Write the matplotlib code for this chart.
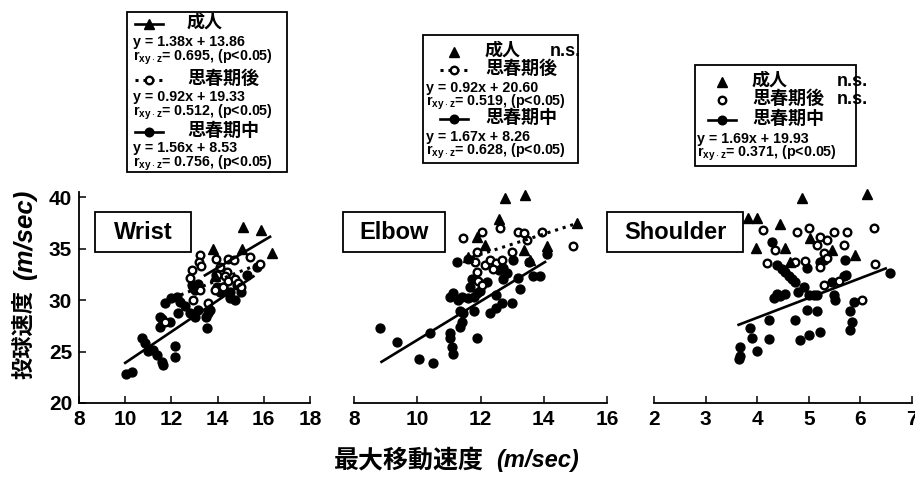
import matplotlib
matplotlib.use('Agg')
import matplotlib.pyplot as plt
from matplotlib.lines import Line2D
from matplotlib.patches import Rectangle

plt.rcParams['font.family'] = ['Liberation Sans', 'Noto Sans CJK JP']
plt.rcParams['font.weight'] = 'bold'
plt.rcParams['mathtext.fontset'] = 'custom'
plt.rcParams['mathtext.rm'] = 'Liberation Sans:bold'
plt.rcParams['mathtext.bf'] = 'Liberation Sans:bold'
plt.rcParams['mathtext.it'] = 'Liberation Sans:italic:bold'

# ---------------- data ----------------
panel_names = ['Wrist', 'Elbow', 'Shoulder']
x_ranges = [(8, 18), (8, 16), (2, 7)]
x_ticks = [[8, 10, 12, 14, 16, 18], [8, 10, 12, 14, 16], [2, 3, 4, 5, 6, 7]]
y_ticks = [20, 25, 30, 35, 40]

# Wrist
wrist_mid_x = [10.03, 10.28, 10.71, 10.86, 11.22, 11.36, 11.58, 11.65, 12.16, 12.16, 11.5, 11.58,
               11.5, 11.72, 12.0, 12.23, 12.37, 12.59, 12.8, 13.0, 13.17, 13.53, 13.5, 13.67, 12.88,
               13.0, 13.17, 13.96, 14.1, 14.54, 14.54, 14.83, 15.26, 15.69, 11.94, 12.95, 13.6,
               13.93, 14.25, 14.5, 14.75, 15.0, 12.3, 11.0]
wrist_mid_y = [22.8, 23.0, 26.3, 25.8, 25.15, 24.7, 24.0, 23.7, 24.5, 25.5, 27.4, 28.2,
               28.4, 29.7, 30.2, 30.3, 29.8, 29.4, 28.7, 28.4, 29.0, 27.25, 28.4, 29.0, 31.5,
               31.0, 31.6, 31.3, 30.8, 30.8, 30.2, 31.46, 32.4, 33.2, 27.9, 31.3, 28.7,
               32.4, 31.3, 30.65, 30.0, 30.8, 28.7, 25.1]
wrist_post_x = [13.24, 13.21, 13.27, 13.93, 14.46, 14.71, 15.4, 15.84, 14.1, 13.96, 14.39, 14.32,
                12.8, 12.95, 13.6, 13.89, 14.25, 14.46, 14.75, 14.9, 15.0, 11.72, 12.88, 13.24]
wrist_post_y = [34.4, 33.7, 33.3, 33.95, 33.95, 33.9, 34.2, 33.5, 33.2, 32.4, 32.75, 32.3,
                32.1, 30.0, 29.7, 31.0, 31.3, 31.9, 32.0, 31.7, 31.3, 27.9, 32.9, 31.0]
wrist_adult_x = [15.11, 15.9, 16.34, 13.8, 15.04, 13.9]
wrist_adult_y = [37.1, 36.8, 34.6, 35.0, 35.0, 32.3]

# Elbow
elbow_mid_x = [8.82, 9.35, 10.04, 10.49, 10.4, 11.04, 11.04, 11.09, 11.14, 11.35, 11.4, 11.46,
               11.35, 11.88, 11.78, 11.04, 11.14, 11.3, 11.4, 11.6, 11.78, 11.88, 11.67, 11.72,
               11.25, 12.3, 12.5, 12.67, 13.0, 12.5, 12.7, 12.83, 12.72, 13.04, 13.2, 13.25,
               13.67, 13.88, 13.52, 14.1, 11.99, 12.2, 12.6]
elbow_mid_y = [27.25, 25.96, 24.24, 23.85, 26.8, 26.8, 26.3, 25.47, 24.8, 27.4, 27.9, 28.7,
               28.9, 26.3, 28.9, 30.3, 30.65, 30.0, 30.3, 30.2, 30.3, 30.65, 31.3, 32.0,
               33.7, 28.7, 29.2, 29.7, 29.7, 30.5, 32.0, 32.6, 33.1, 33.9, 32.1, 31.1,
               32.3, 32.3, 33.7, 34.5, 30.9, 31.8, 32.9]
elbow_post_x = [11.46, 11.88, 12.04, 11.83, 11.88, 12.15, 12.3, 12.5, 12.67, 12.62, 11.93, 12.04,
                12.99, 13.2, 13.36, 13.46, 13.94, 14.94, 11.6, 12.4]
elbow_post_y = [36.0, 34.7, 36.6, 33.7, 32.75, 33.4, 33.9, 33.6, 33.9, 37.0, 31.9, 31.5,
                34.7, 36.6, 36.5, 35.8, 36.6, 35.3, 34.0, 33.0]
elbow_adult_x = [12.78, 13.41, 12.57, 11.88, 12.14, 13.36, 14.1, 15.05, 13.57, 11.62]
elbow_adult_y = [39.87, 40.2, 37.9, 36.15, 35.34, 34.86, 35.3, 37.45, 33.9, 34.2]

# Shoulder
shoulder_mid_x = [3.67, 3.64, 3.66, 3.99, 3.9, 4.22, 3.86, 4.22, 4.29, 4.38, 4.48, 4.54, 4.61,
                  4.67, 4.74, 4.32, 4.38, 4.45, 4.54, 4.8, 4.9, 4.74, 4.83, 5.0, 5.22, 4.96, 5.16,
                  5.0, 5.1, 5.16, 4.96, 5.22, 5.29, 5.45, 5.48, 5.5, 5.68, 5.72, 5.71, 5.8, 5.84,
                  5.8, 5.87, 6.58]
shoulder_mid_y = [25.4, 24.3, 24.6, 25.05, 26.28, 26.2, 27.3, 28.06, 35.66, 33.4, 33.0, 32.7, 32.3,
                  32.0, 31.8, 30.2, 30.6, 30.4, 30.6, 30.8, 31.3, 28.06, 26.1, 26.6, 26.9, 29.0, 28.9,
                  30.5, 30.5, 30.5, 33.1, 33.7, 33.9, 31.8, 30.5, 30.0, 32.3, 32.4, 33.9, 28.9, 27.9,
                  27.1, 29.8, 32.6]
shoulder_post_x = [4.12, 4.35, 4.19, 4.77, 5.0, 4.74, 4.93, 5.16, 5.22, 5.35, 5.48, 5.29, 5.35,
                   5.22, 5.74, 5.68, 6.26, 6.29, 5.29, 5.58, 6.03]
shoulder_post_y = [36.8, 34.85, 33.56, 36.6, 37.0, 33.72, 33.8, 35.34, 36.15, 35.8, 36.6, 34.53,
                   34.05, 33.2, 36.6, 35.34, 36.96, 33.46, 31.5, 31.9, 30.0]
shoulder_adult_x = [4.87, 6.13, 3.83, 3.99, 4.45, 3.98, 4.54, 4.64, 5.03, 5.45, 5.9]
shoulder_adult_y = [39.87, 40.26, 37.93, 37.93, 37.35, 35.08, 35.08, 33.72, 36.05, 34.85, 34.4]

# fitted lines as drawn in the figure (end points)
wrist_mid_line = ([10.0, 15.55], [23.9, 32.3])
wrist_adult_line = ([13.45, 16.27], [32.4, 36.15])
wrist_post_line = ([12.4, 15.8], [30.5, 33.5])
elbow_mid_line = ([8.87, 14.04], [24.0, 33.7])
elbow_post_line = ([11.25, 15.05], [33.7, 37.45])
shoulder_mid_line = ([3.64, 6.49], [27.6, 33.07])

group_names = ['成人', '思春期後', '思春期中']
wrist_stats = ['y = 1.38x + 13.86', '0.695', 'y = 0.92x + 19.33', '0.512', 'y = 1.56x + 8.53', '0.756']
elbow_stats = ['y = 0.92x + 20.60', '0.519', 'y = 1.67x + 8.26', '0.628']
shoulder_stats = ['y = 1.69x + 19.93', '0.371']
ns_label = 'n.s.'
p_label = '(p<0.05)'
x_label_jp = '最大移動速度'
y_label_jp = '投球速度'
unit_label = '(m/sec)'

# ---------------- figure ----------------
W, H = 915, 480
fig = plt.figure(figsize=(W / 100, H / 100), dpi=100)
fig.patch.set_facecolor('white')


def fx(x):
    return x / W


def fy(y):
    return 1 - y / H


axes_px = [(79, 231), (354, 253), (654, 258)]
ax_bottom, ax_height = 403, 211

panels = [
    (wrist_mid_x, wrist_mid_y, wrist_post_x, wrist_post_y, wrist_adult_x, wrist_adult_y,
     [(wrist_mid_line, '-'), (wrist_adult_line, '-'), (wrist_post_line, ':')]),
    (elbow_mid_x, elbow_mid_y, elbow_post_x, elbow_post_y, elbow_adult_x, elbow_adult_y,
     [(elbow_mid_line, '-'), (elbow_post_line, ':')]),
    (shoulder_mid_x, shoulder_mid_y, shoulder_post_x, shoulder_post_y, shoulder_adult_x, shoulder_adult_y,
     [(shoulder_mid_line, '-')]),
]

for i, (left, width) in enumerate(axes_px):
    ax = fig.add_axes([fx(left), fy(ax_bottom), width / W, ax_height / H])
    mx, my, px, py, tx, ty, lines = panels[i]
    ax.plot(mx, my, 'o', ms=6.4, color='black', mec='black', zorder=3, clip_on=False)
    ax.plot(px, py, 'o', ms=5.5, mfc='white', mec='black', mew=1.7, zorder=4, clip_on=False)
    ax.plot(tx, ty, '^', ms=6.5, color='black', zorder=5, clip_on=False)
    for (lx, ly), ls in lines:
        if ls == ':':
            ax.plot(lx, ly, color='black', lw=2.2, ls=(0, (1, 1.6)), zorder=6)
        else:
            ax.plot(lx, ly, color='black', lw=1.9, zorder=6)
    ax.set_xlim(*x_ranges[i])
    ax.set_ylim(20, 40.5)
    ax.set_xticks(x_ticks[i])
    ax.set_yticks(y_ticks)
    ax.tick_params(direction='in', length=5, width=1.1, labelsize=15, pad=5)
    for s in ['top', 'right']:
        ax.spines[s].set_visible(False)
    ax.spines['bottom'].set_linewidth(1.3)
    ax.spines['left'].set_linewidth(1.3)
    if i > 0:
        ax.spines['left'].set_visible(False)
        ax.tick_params(axis='y', left=False, labelleft=False)
    else:
        ax.spines['left'].set_bounds(20, 40.5)
    for lab in ax.get_xticklabels() + ax.get_yticklabels():
        lab.set_fontweight('bold')
    ax.patch.set_alpha(0)

# panel title boxes
title_boxes = [(95, 212, 191, 252), (343, 212, 445, 252), (607, 212, 743, 252)]
for name, (x0, y0, x1, y1) in zip(panel_names, title_boxes):
    fig.add_artist(Rectangle((fx(x0), fy(y1)), (x1 - x0) / W, (y1 - y0) / H,
                             transform=fig.transFigure, fill=False, lw=1.3, ec='black'))
    fig.text(fx((x0 + x1) / 2), fy((y0 + y1) / 2 + 1), name, ha='center', va='center',
             fontsize=17, fontweight='bold')


# legend / statistics boxes
def rbox(x0, y0, x1, y1):
    fig.add_artist(Rectangle((fx(x0), fy(y1)), (x1 - x0) / W, (y1 - y0) / H,
                             transform=fig.transFigure, fill=False, lw=1.3, ec='black'))


def glyph(xc, y, kind, line=None, half=14):
    if line is not None:
        ls = '-' if line == '-' else (0, (1, 1.6))
        fig.add_artist(Line2D([fx(xc - half), fx(xc + half)], [fy(y), fy(y)],
                              transform=fig.transFigure, color='black',
                              lw=1.9 if line == '-' else 2.2, ls=ls))
    if kind == 'tri':
        fig.add_artist(Line2D([fx(xc)], [fy(y)], transform=fig.transFigure, marker='^', ms=6.5,
                              color='black', ls='none'))
    elif kind == 'open':
        fig.add_artist(Line2D([fx(xc)], [fy(y)], transform=fig.transFigure, marker='o', ms=5.4,
                              mfc='white', mec='black', mew=1.7, ls='none'))
    else:
        fig.add_artist(Line2D([fx(xc)], [fy(y)], transform=fig.transFigure, marker='o', ms=6.2,
                              color='black', ls='none'))


def name_text(x, y, s):
    fig.text(fx(x), fy(y), s, ha='left', va='center', fontsize=13, fontweight='bold')


def eq_text(x, y, s):
    fig.text(fx(x), fy(y), s, ha='left', va='center', fontsize=10.3, fontweight='bold')


def r_text(x, y, val):
    eq_text(x, y, r'r$_{\mathbf{xy\cdot z}}$= ' + val + ', ' + p_label)


# box 1 (Wrist)
rbox(127, 12, 287, 172)
glyph(149, 24, 'tri', '-')
name_text(187, 23, group_names[0])
eq_text(133, 42, wrist_stats[0])
r_text(133, 57, wrist_stats[1])
glyph(149, 80, 'open', ':')
name_text(187, 79, group_names[1])
eq_text(133, 97, wrist_stats[2])
r_text(133, 112, wrist_stats[3])
glyph(149, 132, 'mid', '-')
name_text(187, 131, group_names[2])
eq_text(133, 148, wrist_stats[4])
r_text(133, 163, wrist_stats[5])

# box 2 (Elbow)
rbox(423, 35, 578, 163)
glyph(454, 52, 'tri')
name_text(485, 51, group_names[0])
name_text(550, 51, ns_label)
glyph(454, 70, 'open', ':')
name_text(485, 69, group_names[1])
eq_text(426, 88, elbow_stats[0])
r_text(426, 102, elbow_stats[1])
glyph(454, 119, 'mid', '-')
name_text(485, 118, group_names[2])
eq_text(426, 137, elbow_stats[2])
r_text(426, 151, elbow_stats[3])

# box 3 (Shoulder)
rbox(695, 65, 856, 166)
glyph(722, 82, 'tri')
name_text(752, 81, group_names[0])
name_text(837, 81, ns_label)
glyph(722, 100, 'open')
name_text(752, 99, group_names[1])
name_text(837, 99, ns_label)
glyph(722, 120, 'mid', '-')
name_text(752, 119, group_names[2])
eq_text(697, 139, shoulder_stats[0])
r_text(697, 153, shoulder_stats[1])

# axis labels (Japanese part + italic unit)
fig.text(fx(484), fy(460), x_label_jp, ha='right', va='center', fontsize=18, fontweight='bold')
fig.text(fx(496), fy(460), unit_label, ha='left', va='center', fontsize=17, fontweight='bold',
         fontstyle='italic')
fig.text(fx(25), fy(379), y_label_jp, ha='center', va='bottom', rotation=90, fontsize=16,
         fontweight='bold')
fig.text(fx(25), fy(190), unit_label, ha='center', va='top', rotation=90, fontsize=18.5,
         fontweight='bold', fontstyle='italic')

fig.savefig('out.png', dpi=100, facecolor='white')
